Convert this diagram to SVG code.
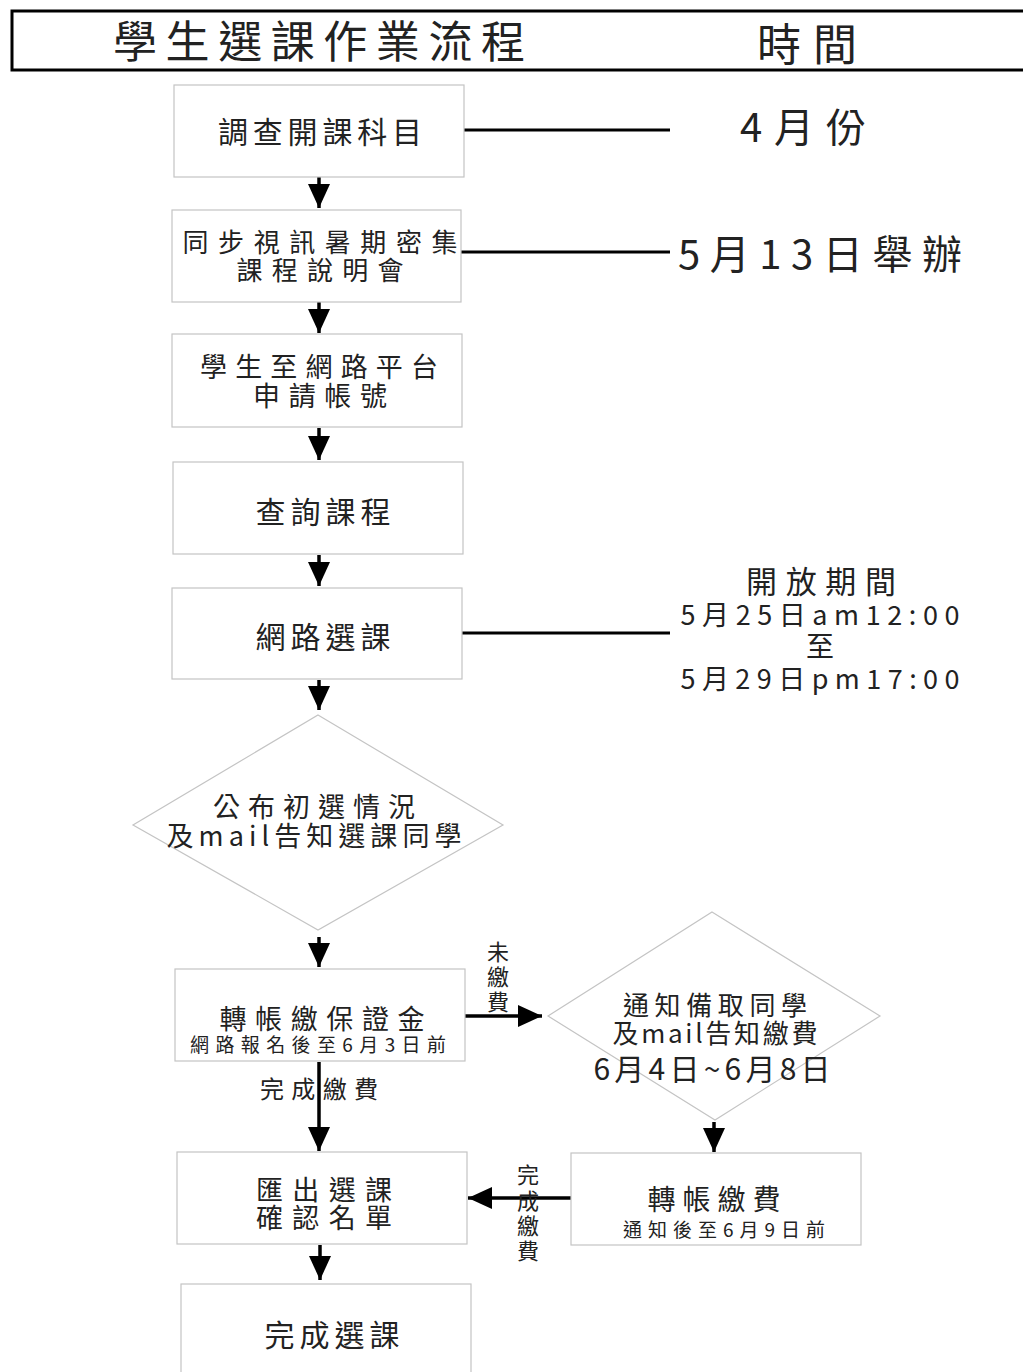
<svg xmlns="http://www.w3.org/2000/svg" width="1023" height="1372" viewBox="0 0 1023 1372">
<defs>
<marker id="ah" viewBox="0 0 24 22" refX="24" refY="11" markerWidth="24" markerHeight="22" markerUnits="userSpaceOnUse" orient="auto">
<path d="M0,0 L24,11 L0,22 Z" fill="#000"/>
</marker>
</defs>
<style>
text{font-family:"Noto Sans CJK TC","Noto Sans CJK SC",sans-serif;fill:#222;text-anchor:middle;dominant-baseline:central;}
.box{fill:#fff;stroke:#c4c4c4;stroke-width:1.2;}
.dia{fill:none;stroke:#c4c4c4;stroke-width:1.2;}
.tl{stroke:#000;stroke-width:3;fill:none;}
.cn{stroke:#000;stroke-width:3.5;fill:none;marker-end:url(#ah);}
</style>
<rect width="1023" height="1372" fill="#fff"/>

<g id="header">
<rect x="12" y="11" width="1020" height="59" fill="none" stroke="#000" stroke-width="3"/>
<text x="319" y="39" font-size="44" textLength="412" lengthAdjust="spacing">學生選課作業流程</text>
<text x="807" y="42" font-size="44" textLength="100" lengthAdjust="spacing">時間</text>
</g>

<g id="connectors">
<line class="cn" x1="319" y1="177" x2="319" y2="208"/>
<line class="cn" x1="319" y1="302" x2="319" y2="333"/>
<line class="cn" x1="319" y1="428" x2="319" y2="460"/>
<line class="cn" x1="319" y1="555" x2="319" y2="586"/>
<line class="cn" x1="319" y1="680" x2="319" y2="710"/>
<line class="cn" x1="319" y1="937" x2="319" y2="967"/>
<line class="cn" x1="319" y1="1062" x2="319" y2="1151"/>
<line class="cn" x1="465" y1="1016" x2="542" y2="1016"/>
<line class="cn" x1="714" y1="1122" x2="714" y2="1152"/>
<line class="cn" x1="571" y1="1198" x2="468" y2="1198"/>
<line class="cn" x1="320" y1="1245" x2="320" y2="1280"/>
<line class="tl" x1="464" y1="130" x2="670" y2="130"/>
<line class="tl" x1="461" y1="252" x2="670" y2="252"/>
<line class="tl" x1="462" y1="633" x2="670" y2="633"/>
<text x="498" y="950" font-size="22">未</text>
<text x="498" y="975" font-size="22">繳</text>
<text x="498" y="1000" font-size="22">費</text>
<text x="319" y="1087" font-size="24" textLength="118" lengthAdjust="spacing">完成繳費</text>
<text x="528" y="1173" font-size="22">完</text>
<text x="528" y="1199" font-size="22">成</text>
<text x="528" y="1224" font-size="22">繳</text>
<text x="528" y="1249" font-size="22">費</text>
</g>

<g id="n1">
<rect class="box" x="174" y="85" width="290" height="92"/>
<text x="320" y="130" font-size="30" textLength="204" lengthAdjust="spacing">調查開課科目</text>
</g>
<g id="t1">
<text x="803" y="125" font-size="40" textLength="126" lengthAdjust="spacing">4月份</text>
</g>

<g id="n2">
<rect class="box" x="172" y="210" width="289" height="92"/>
<text x="320" y="240" font-size="26" textLength="275" lengthAdjust="spacing">同步視訊暑期密集</text>
<text x="320" y="268" font-size="26" textLength="167" lengthAdjust="spacing">課程說明會</text>
</g>
<g id="t2">
<text x="820" y="252" font-size="40" textLength="284" lengthAdjust="spacing">5月13日舉辦</text>
</g>

<g id="n3">
<rect class="box" x="172" y="334" width="290" height="93"/>
<text x="319" y="365" font-size="27" textLength="238" lengthAdjust="spacing">學生至網路平台</text>
<text x="320" y="394" font-size="27" textLength="134" lengthAdjust="spacing">申請帳號</text>
</g>

<g id="n4">
<rect class="box" x="173" y="462" width="290" height="92"/>
<text x="323" y="510" font-size="30" textLength="135" lengthAdjust="spacing">查詢課程</text>
</g>

<g id="n5">
<rect class="box" x="172" y="588" width="290" height="91"/>
<text x="323" y="635" font-size="30" textLength="135" lengthAdjust="spacing">網路選課</text>
</g>
<g id="t5">
<text x="821" y="579" font-size="31" textLength="150" lengthAdjust="spacing">開放期間</text>
<text x="820" y="613" font-size="27" textLength="279" lengthAdjust="spacing">5月25日am12:00</text>
<text x="820" y="645" font-size="28">至</text>
<text x="820" y="677" font-size="27" textLength="279" lengthAdjust="spacing">5月29日pm17:00</text>
</g>

<g id="n6">
<polygon class="dia" points="318,715 503,825 318,930 133,825"/>
<text x="314" y="805" font-size="27" textLength="202" lengthAdjust="spacing">公布初選情況</text>
<text x="314" y="834" font-size="27" textLength="295" lengthAdjust="spacing">及mail告知選課同學</text>
</g>

<g id="n7">
<rect class="box" x="175" y="969" width="290" height="92"/>
<text x="322" y="1017" font-size="27" textLength="205" lengthAdjust="spacing">轉帳繳保證金</text>
<text x="318" y="1043" font-size="19" textLength="256" lengthAdjust="spacing">網路報名後至6月3日前</text>
</g>

<g id="n8">
<polygon class="dia" points="712,912 880,1016 715,1120 548,1016"/>
<text x="715" y="1003" font-size="26" textLength="184" lengthAdjust="spacing">通知備取同學</text>
<text x="715" y="1031" font-size="26" textLength="205" lengthAdjust="spacing">及mail告知繳費</text>
<text x="712" y="1067" font-size="30" textLength="237" lengthAdjust="spacing">6月4日~6月8日</text>
</g>

<g id="n9">
<rect class="box" x="571" y="1153" width="290" height="92"/>
<text x="714" y="1198" font-size="28" textLength="133" lengthAdjust="spacing">轉帳繳費</text>
<text x="724" y="1228" font-size="19" textLength="202" lengthAdjust="spacing">通知後至6月9日前</text>
</g>

<g id="n10">
<rect class="box" x="177" y="1152" width="290" height="92"/>
<text x="324" y="1188" font-size="27" textLength="136" lengthAdjust="spacing">匯出選課</text>
<text x="324" y="1216" font-size="27" textLength="136" lengthAdjust="spacing">確認名單</text>
</g>

<g id="n11">
<rect class="box" x="181" y="1284" width="290" height="100"/>
<text x="332" y="1333" font-size="30" textLength="135" lengthAdjust="spacing">完成選課</text>
</g>
</svg>
